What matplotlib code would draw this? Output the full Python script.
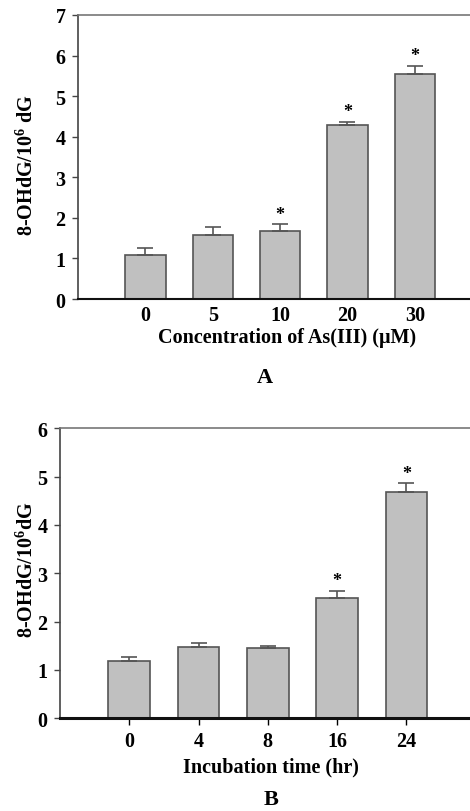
import numpy as np
import matplotlib.pyplot as plt

plt.rcParams['font.family'] = ['Liberation Serif', 'DejaVu Serif']
plt.rcParams['font.weight'] = 'bold'
plt.rcParams['mathtext.fontset'] = 'custom'
plt.rcParams['mathtext.rm'] = 'Liberation Serif:bold'
plt.rcParams['mathtext.bf'] = 'Liberation Serif:bold'

# Panel A: As(III) concentration
conc_labels = ['0', '5', '10', '20', '30']
conc_vals = [1.09, 1.57, 1.67, 4.29, 5.55]
conc_err = [0.16, 0.21, 0.18, 0.08, 0.20]
conc_sig = [False, False, True, True, True]

# Panel B: incubation time
time_labels = ['0', '4', '8', '16', '24']
time_vals = [1.19, 1.48, 1.46, 2.48, 4.69]
time_err = [0.08, 0.07, 0.03, 0.16, 0.17]
time_sig = [False, False, False, True, True]

bar_color = '#c0c0c0'
edge_color = '#555555'
fs = 14.5

fig = plt.figure(figsize=(4.7, 8.12), dpi=100)
axA = fig.add_axes([0.166, 0.6305, 0.834, 0.3498])
axB = fig.add_axes([0.1277, 0.1142, 0.8723, 0.3571])


def draw_panel(ax, labels, vals, errs, sig, ymax, xmax, xticks_on, xline_w):
    x = np.arange(len(vals))
    ax.bar(x, vals, width=0.6, color=bar_color, edgecolor=edge_color, linewidth=1.2, zorder=2)
    ax.errorbar(x, vals, yerr=[np.zeros(len(errs)), errs], fmt='none',
                ecolor=edge_color, elinewidth=1.2, capsize=6, capthick=1.2, zorder=3)
    for xi, v, e, s in zip(x, vals, errs, sig):
        if s:
            ax.text(xi, v + e + ymax * 0.005, '*', ha='center', va='bottom',
                    fontsize=13, fontweight='bold')
    ax.set_xlim(-1, xmax)
    ax.set_ylim(0, ymax)
    ax.set_xticks(x)
    ax.set_xticklabels(labels, fontsize=fs, fontweight='bold')
    ax.set_yticks(range(ymax + 1))
    ax.set_yticklabels([str(i) for i in range(ymax + 1)], fontsize=fs, fontweight='bold')
    ax.tick_params(axis='y', direction='out', length=4, width=1, color='#444444', pad=5)
    if xticks_on:
        ax.tick_params(axis='x', direction='out', length=5, width=1, pad=4)
    else:
        ax.tick_params(axis='x', length=0, pad=4)
    ax.spines['right'].set_visible(False)
    ax.spines['top'].set_color('#777777')
    ax.spines['top'].set_linewidth(1.2)
    ax.spines['left'].set_color('#444444')
    ax.spines['left'].set_linewidth(1.2)
    ax.spines['bottom'].set_color('#111111')
    ax.spines['bottom'].set_linewidth(xline_w)


draw_panel(axA, conc_labels, conc_vals, conc_err, conc_sig, 7, 4.82, False, 1.5)
draw_panel(axB, time_labels, time_vals, time_err, time_sig, 6, 4.92, True, 2.2)

H = 812.0
W = 470.0
# axis titles and panel letters, placed in figure pixels
fig.text(27 / W, 1 - 165 / H, r'8-OHdG/10$^{6}$ dG', rotation=90, ha='center', va='center',
         fontsize=fs, fontweight='bold')
fig.text(287 / W, 1 - 338 / H, 'Concentration of As(III) (\u03bcM)', ha='center', va='center',
         fontsize=fs, fontweight='bold')
fig.text(265 / W, 1 - 378 / H, 'A', ha='center', va='center', fontsize=16, fontweight='bold')

fig.text(27 / W, 1 - 570 / H, r'8-OHdG/10$^{6}$dG', rotation=90, ha='center', va='center',
         fontsize=fs, fontweight='bold')
fig.text(271 / W, 1 - 767 / H, 'Incubation time (hr)', ha='center', va='center',
         fontsize=fs, fontweight='bold')
fig.text(271 / W, 1 - 800 / H, 'B', ha='center', va='center', fontsize=16, fontweight='bold')

fig.savefig('out.png', dpi=100)
